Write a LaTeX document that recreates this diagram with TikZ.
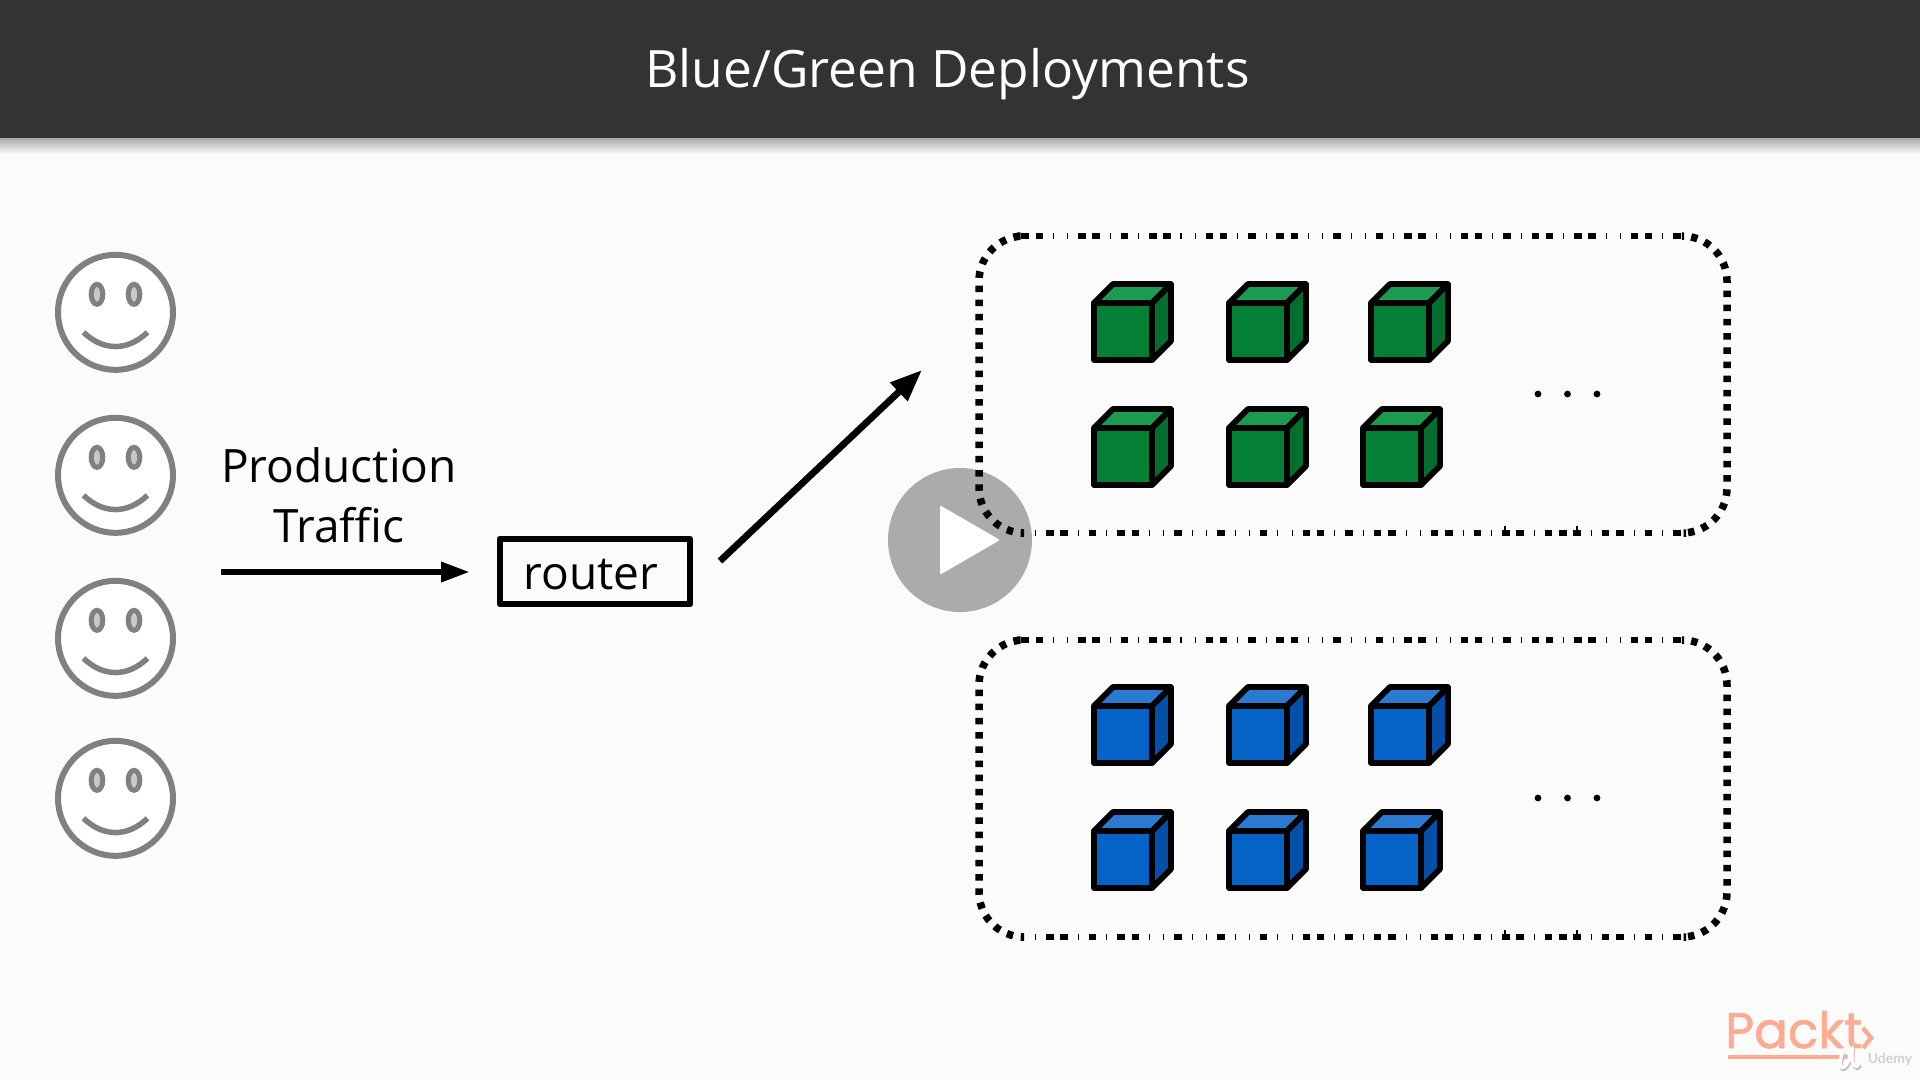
\documentclass[tikz,border=0pt]{standalone}
\usepackage{fontspec}
\usetikzlibrary{arrows.meta,calc}
\setmainfont{Open Sans}
\newfontfamily\logofont[FakeBold=1.2]{Poppins}
\newfontfamily\udemyfont{Lato}
\definecolor{pagebg}{HTML}{FBFBFB}
\definecolor{headbg}{HTML}{333333}
\definecolor{facegray}{HTML}{808080}
\definecolor{eyegray}{HTML}{C8C8C8}
\definecolor{greenfront}{HTML}{048034}
\definecolor{greentop}{HTML}{1B9B50}
\definecolor{greenside}{HTML}{036E2D}
\definecolor{bluefront}{HTML}{0563C8}
\definecolor{bluetop}{HTML}{2A7AD2}
\definecolor{blueside}{HTML}{0450A8}
\definecolor{playgray}{HTML}{ABABAB}
\definecolor{logocol}{HTML}{FFAB91}
\tikzset{
  cubeline/.style={draw=black,line width=5.8pt,line join=round},
  flowarrow/.style={line width=6.4pt},
  dotedge/.style={line width=7.5pt,rounded corners=45pt,dash pattern=on 6.5pt off 7.7pt},
  labeltext/.style={inner sep=0pt,font=\fontsize{46}{60}\selectfont},
}
% x, y = front-left-top corner of the cube
\newcommand{\cubeshape}[5]{%
  \begin{scope}[shift={(#1,#2)}]
    \filldraw[cubeline,fill=#3] (0,0) rectangle (58,57);
    \filldraw[cubeline,fill=#4] (0,0) -- (19,-19) -- (77,-19) -- (58,0) -- cycle;
    \filldraw[cubeline,fill=#5] (58,0) -- (77,-19) -- (77,38) -- (58,57) -- cycle;
  \end{scope}}
\newcommand{\cubeset}[5]{%
  \cubeshape{1094}{#1}{#3}{#4}{#5}
  \cubeshape{1229}{#1}{#3}{#4}{#5}
  \cubeshape{1371}{#1}{#3}{#4}{#5}
  \cubeshape{1094}{#2}{#3}{#4}{#5}
  \cubeshape{1229}{#2}{#3}{#4}{#5}
  \cubeshape{1363}{#2}{#3}{#4}{#5}}
\newcommand{\smiley}[2]{%
  \begin{scope}[shift={(#1,#2)}]
    \filldraw[draw=facegray,fill=white,line width=6pt] (0,0) circle[radius=57.5pt];
    \filldraw[draw=facegray,fill=eyegray,line width=5pt] (-18.5,-18) ellipse[x radius=5.8pt,y radius=10pt];
    \filldraw[draw=facegray,fill=eyegray,line width=5pt] (18.5,-18) ellipse[x radius=5.8pt,y radius=10pt];
    \draw[draw=facegray,line width=5.5pt] (-32,20) .. controls (-12,39) and (12,39) .. (32,20);
  \end{scope}}
% one dotted box: top y, bottom y
\newcommand{\dotbox}[2]{%
  \draw[dotedge,dash phase=3pt] (1017,#1) -- (979,#1) -- (979,#2) -- (1020,#2);
  \draw[dotedge,dash phase=3pt] (1684,#1) -- (1727,#1) -- (1727,#2) -- (1686,#2);
  \foreach \k in {0,...,46}{
    \pgfmathsetmacro{\xx}{1025.2+14.17*\k}
    \fill[black] (\xx-0.6,#1-3) rectangle (\xx+0.6,#1+3);}
  \foreach \k in {0,1,4,5,7,9,10,13,14,16,18,19,22,25,27,28,31,32,34,36,37,39,40,43,44,46}{
    \pgfmathsetmacro{\xx}{1025.2+14.17*\k}
    \fill[black] (\xx-3.8,#1-3.4) rectangle (\xx+3.8,#1+3.4);}
  \foreach \k in {0,...,45}{
    \pgfmathsetmacro{\xx}{1035.6+14.25*\k}
    \fill[black] (\xx-0.6,#2-3) rectangle (\xx+0.6,#2+3);}
  \foreach \k in {1,2,4,6,7,10,13,16,19,20,22,24,25,28,29,31,33,34,36,37,38,40,41,43,45}{
    \pgfmathsetmacro{\xx}{1035.6+14.25*\k}
    \fill[black] (\xx-3.8,#2-3.4) rectangle (\xx+3.8,#2+3.4);}
  \fill[black] (1504.4,#2-7) rectangle (1505.6,#2);
  \fill[black] (1576.4,#2-7) rectangle (1577.6,#2);}
\newcommand{\threedots}[1]{%
  \fill[black] (1538,#1) circle[radius=3.4pt];
  \fill[black] (1567.5,#1) circle[radius=3.4pt];
  \fill[black] (1597,#1) circle[radius=3.4pt];}

\begin{document}
\begin{tikzpicture}[x=1pt,y=-1pt]
  \useasboundingbox (0,0) rectangle (1920,1080);
  \fill[pagebg] (0,0) rectangle (1920,1080);
  % header
  \shade[top color=black!35,bottom color=pagebg] (0,137) rectangle (1920,154);
  \fill[headbg] (0,0) rectangle (1920,138);
  \node[anchor=base,inner sep=0pt,text=white,font=\fontsize{51.5}{70}\selectfont] (title) at (947.5,87) {Blue/Green Deployments};
  % faces
  \smiley{115.5}{312.3}
  \smiley{115.5}{475.3}
  \smiley{115.5}{638.3}
  \smiley{115.5}{798.3}
  % label and router
  \node[labeltext,anchor=base] (production) at (339,482) {Production};
  \node[labeltext,anchor=base] (traffic) at (339,542) {Traffic};
  \node[draw=black,line width=6pt,minimum width=190.6pt,minimum height=65.6pt,inner sep=0pt,line join=round] (router) at (595,571.5) {};
  \node[labeltext,anchor=base] (routerlabel) at (591,589) {router};
  \coordinate (flowstart) at (221,572);
  \coordinate (routerin) at (470,572);
  \coordinate (routerout) at (720,561);
  \coordinate (greenin) at (922,370);
  \draw[flowarrow,-{Triangle[length=29pt,width=19pt]}] (flowstart) -- (routerin);
  \draw[flowarrow,line width=6.8pt,-{Triangle[length=32pt,width=24pt]}] (routerout) -- (greenin);
  % play button under the dots
  \fill[playgray] (960,540) circle[radius=72pt];
  \fill[white,draw=white,line width=2pt,line join=round] (941,507) -- (941,573) -- (998,540) -- cycle;
  % dotted groups
  \dotbox{236}{533}
  \dotbox{640}{937}
  \threedots{394}
  \threedots{798}
  % cubes
  \cubeset{303}{428}{greenfront}{greentop}{greenside}
  \cubeset{706}{831}{bluefront}{bluetop}{blueside}
  % logo
  \node[anchor=base west,inner sep=0pt,text=logocol,font=\logofont\fontsize{50}{60}\selectfont] (packt) at (1725,1048) {Packt};
  \draw[logocol,line width=4.5pt] (1863,1028) -- (1871,1038) -- (1863,1048);
  \draw[logocol,line width=4.5pt] (1728,1057) -- (1848,1057);
  \draw[black!25,line width=3.5pt,line cap=round] (1844,1054) .. controls (1838,1066) and (1842,1076) .. (1849,1064) .. controls (1851,1058) and (1852,1056) .. (1853,1054) .. controls (1852,1066) and (1856,1072) .. (1860,1066);
  \draw[white,line width=3.5pt,line cap=round] (1843,1052) .. controls (1837,1064) and (1841,1074) .. (1848,1062) .. controls (1850,1056) and (1851,1054) .. (1852,1052) .. controls (1851,1064) and (1855,1070) .. (1859,1064);
  \node[inner sep=0pt,text=black!18,font=\udemyfont\bfseries\fontsize{14}{16}\selectfont] (udemy) at (1890,1059) {Udemy};
\end{tikzpicture}
\end{document}
